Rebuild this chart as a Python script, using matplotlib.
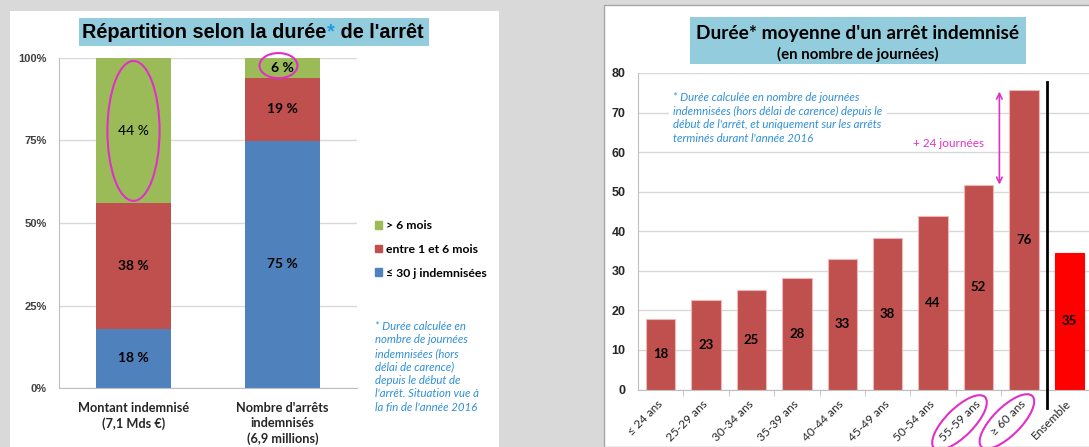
import matplotlib
matplotlib.use('Agg')
import matplotlib.pyplot as plt
from matplotlib.patches import Rectangle, Ellipse, Patch
from matplotlib import transforms

# donnees - graphique de gauche (repartition en %)
groupes = ['Montant indemnisé\n(7,1 Mds €)', "Nombre d'arrêts\nindemnisés\n(6,9 millions)"]
part_30j = [18, 75]
part_1_6m = [38, 19]
part_6m = [44, 6]
leg_labels = ['> 6 mois', 'entre 1 et 6 mois', '≤ 30 j indemnisées']

# donnees - graphique de droite (duree moyenne en journees)
ages = ['≤ 24 ans', '25-29 ans', '30-34 ans', '35-39 ans', '40-44 ans',
        '45-49 ans', '50-54 ans', '55-59 ans', '≥ 60 ans', 'Ensemble']
duree = [17.9, 22.6, 25.1, 28.3, 32.9, 38.3, 43.9, 51.7, 75.6, 34.6]

vert = '#9bbb59'
rouge = '#c0504d'
bleu = '#4f81bd'
magenta = '#e030c8'
bleu_txt = '#2f8fd8'
gris = '#d9d9d9'
FONT = ['Lato', 'DejaVu Sans']
ARIAL = ['Liberation Sans', 'DejaVu Sans']

W, H = 1089, 447
fig = plt.figure(figsize=(W / 100, H / 100), dpi=100, facecolor=gris)

# panneaux blancs (derriere les axes)
fig.patches.append(Rectangle((10 / W, 0), 489 / W, 1 - 11 / H, transform=fig.transFigure,
                             facecolor='white', edgecolor='none', zorder=-2))
fig.patches.append(Rectangle((604 / W, 0), 1 - 604 / W + 0.01, 1 - 5 / H, transform=fig.transFigure,
                             facecolor='white', edgecolor='#a6a6a6', lw=1, zorder=-2))

# ---------- graphique de gauche
ax1 = fig.add_axes([59 / W, 1 - 388 / H, 298 / W, 330 / H])
ax1.set_facecolor('none')
x1 = list(range(len(groupes)))
bas2 = [a + b for a, b in zip(part_30j, part_1_6m)]
ax1.bar(x1, part_30j, width=0.5, color=bleu, zorder=2)
ax1.bar(x1, part_1_6m, width=0.5, bottom=part_30j, color=rouge, zorder=2)
ax1.bar(x1, part_6m, width=0.5, bottom=bas2, color=vert, zorder=2)
for i in x1:
    ax1.text(i, part_30j[i] / 2, '%d %%' % part_30j[i], ha='center', va='center',
             fontsize=10, fontweight='bold', family=FONT, zorder=3)
    ax1.text(i, part_30j[i] + part_1_6m[i] / 2, '%d %%' % part_1_6m[i], ha='center', va='center',
             fontsize=10, fontweight='bold', family=FONT, zorder=3)
    ax1.text(i, bas2[i] + part_6m[i] / 2, '%d %%' % part_6m[i], ha='center', va='center',
             fontsize=10, fontweight='bold' if i == 1 else 'normal', family=FONT, zorder=3)
ax1.set_xlim(-0.5, 1.5)
ax1.set_ylim(0, 100)
ax1.set_yticks([0, 25, 50, 75, 100])
ax1.set_yticklabels(['0%', '25%', '50%', '75%', '100%'], fontsize=8, fontweight='bold',
                    family=ARIAL, color='#404040')
ax1.set_xticks(x1)
ax1.set_xticklabels(groupes, fontsize=9.2, fontweight='bold', family=FONT, color='#262626',
                    linespacing=1.3)
ax1.tick_params(axis='y', length=0, pad=9)
ax1.tick_params(axis='x', length=0, pad=10)
ax1.grid(axis='y', color=gris, lw=1, zorder=0)
for s in ['top', 'right']:
    ax1.spines[s].set_visible(False)
ax1.spines['left'].set_color('#bfbfbf')
ax1.spines['bottom'].set_color('#bfbfbf')
ax1.add_patch(Ellipse((0, 77.9), 0.35, 42.4, fill=False, edgecolor=magenta, lw=1.5,
                      zorder=4, clip_on=False))
ax1.add_patch(Ellipse((0.973, 97.7), 0.255, 7.6, fill=False, edgecolor=magenta, lw=1.5,
                      zorder=4, clip_on=False))

poignees = [Patch(color=vert), Patch(color=rouge), Patch(color=bleu)]
fig.legend(poignees, leg_labels, loc='upper left', bbox_to_anchor=(375 / W, 1 - 220 / H),
           frameon=False, borderpad=0, borderaxespad=0, handlelength=0.6, handleheight=0.6,
           handletextpad=0.3, labelspacing=1.05,
           prop={'family': FONT, 'weight': 'bold', 'size': 8.8})

fig.text(375 / W, 1 - 321 / H,
         "* Durée calculée en\nnombre de journées\nindemnisées (hors\ndélai de carence)\n"
         "depuis le début de\nl'arrêt. Situation vue à\nla fin de l'année 2016",
         ha='left', va='top', fontsize=8.2, style='italic', family=FONT, color=bleu_txt,
         linespacing=1.27)

# titre gauche
fig.patches.append(Rectangle((79 / W, 1 - 46 / H), 350 / W, 28 / H, transform=fig.transFigure,
                             facecolor='#93cddd', edgecolor='none', zorder=-1))
t1 = fig.text(82 / W, 1 - 32 / H, 'Répartition selon la durée', ha='left', va='center',
              fontsize=14.3, fontweight='bold', family=ARIAL)
a1 = ax1.annotate('*', xy=(1, 0), xycoords=t1, xytext=(0.5, 0), textcoords='offset points',
                  ha='left', va='bottom', fontsize=14.3, fontweight='bold', family=ARIAL,
                  color='#1f9bde', annotation_clip=False)
ax1.annotate(" de l'arrêt", xy=(1, 0), xycoords=a1, ha='left', va='bottom',
             fontsize=14.3, fontweight='bold', family=ARIAL, annotation_clip=False)

# ---------- graphique de droite
ax2 = fig.add_axes([638 / W, 1 - 389.5 / H, (W - 638) / W, 316.5 / H])
ax2.set_facecolor('none')
x2 = list(range(len(ages)))
couleurs = [rouge] * (len(ages) - 1) + ['#ff0000']
bords = ['#eeb8b8'] * (len(ages) - 1) + ['#ff0000']
ax2.bar(x2, duree, width=0.65, color=couleurs, edgecolor=bords, lw=0.8, zorder=2)
for i, v in zip(x2, duree):
    ax2.text(i, v / 2, '%d' % int(v + 0.5), ha='center', va='center', fontsize=9.5,
             fontweight='bold', family=FONT, zorder=3)
ax2.set_xlim(-0.5, (W - 638) / 45.4 - 0.5)
ax2.set_ylim(0, 80)
ax2.set_yticks(range(0, 81, 10))
ax2.set_yticklabels([str(v) for v in range(0, 81, 10)], fontsize=9, fontweight='bold',
                    family=ARIAL, color='#262626')
ax2.set_xticks(x2)
ax2.set_xticklabels(ages, rotation=45, ha='right', va='center', rotation_mode='anchor',
                    fontsize=8.6, family=FONT, color='#262626')
ax2.set_xticks([i + 0.5 for i in x2[:-1]], minor=True)
ax2.tick_params(axis='x', which='major', length=0, pad=9)
ax2.tick_params(axis='x', which='minor', length=4, color='#bfbfbf')
ax2.tick_params(axis='y', length=0, pad=9)
ax2.grid(axis='y', color=gris, lw=1, zorder=0)
for s in ['top', 'right']:
    ax2.spines[s].set_visible(False)
ax2.spines['left'].set_color('#bfbfbf')
ax2.spines['bottom'].set_color('#bfbfbf')

# separation Ensemble
ax2.plot([8.5, 8.5], [-4.7, 77.7], color='black', lw=2, clip_on=False, zorder=4)

# ecart entre 55-59 et >= 60
ax2.annotate('', xy=(7.46, duree[8] - 0.3), xytext=(7.46, duree[7] + 0.1),
             arrowprops=dict(arrowstyle='<->', color=magenta, lw=1.2, mutation_scale=10,
                             shrinkA=0, shrinkB=0), zorder=4)
ax2.text(6.35, 62.1, '+ 24 journées', ha='center', va='center', fontsize=8.5, family=FONT,
         color=magenta)

ax2.text(0.078, 0.94,
         "* Durée calculée en nombre de journées\nindemnisées (hors délai de carence) depuis le\n"
         "début de l'arrêt, et uniquement sur les arrêts\nterminés durant l'année 2016",
         transform=ax2.transAxes, ha='left', va='top', fontsize=8.2, style='italic', family=FONT,
         color=bleu_txt, linespacing=1.3, zorder=3,
         bbox=dict(boxstyle='square,pad=0.4', facecolor='white', edgecolor='none'))

for k, (dx, dy) in [(7, (-0.19, -0.33)), (8, (-0.17, -0.32))]:
    tr = fig.dpi_scale_trans + transforms.ScaledTranslation(k, 0, ax2.transData)
    fig.add_artist(Ellipse((dx, dy), 0.72, 0.28, angle=45, transform=tr, fill=False,
                           edgecolor=magenta, lw=1.5, zorder=5))

# titre droite
fig.patches.append(Rectangle((690 / W, 1 - 64 / H), 336 / W, 47 / H, transform=fig.transFigure,
                             facecolor='#93cddd', edgecolor='none', zorder=-1))
fig.text(858 / W, 1 - 33 / H, "Durée* moyenne d'un arrêt indemnisé", ha='center', va='center',
         fontsize=13.8, fontweight='bold', family=FONT)
fig.text(858 / W, 1 - 54 / H, "(en nombre de journées)", ha='center', va='center',
         fontsize=10.8, fontweight='bold', family=FONT)

fig.savefig('out.png', dpi=100, facecolor=gris)
